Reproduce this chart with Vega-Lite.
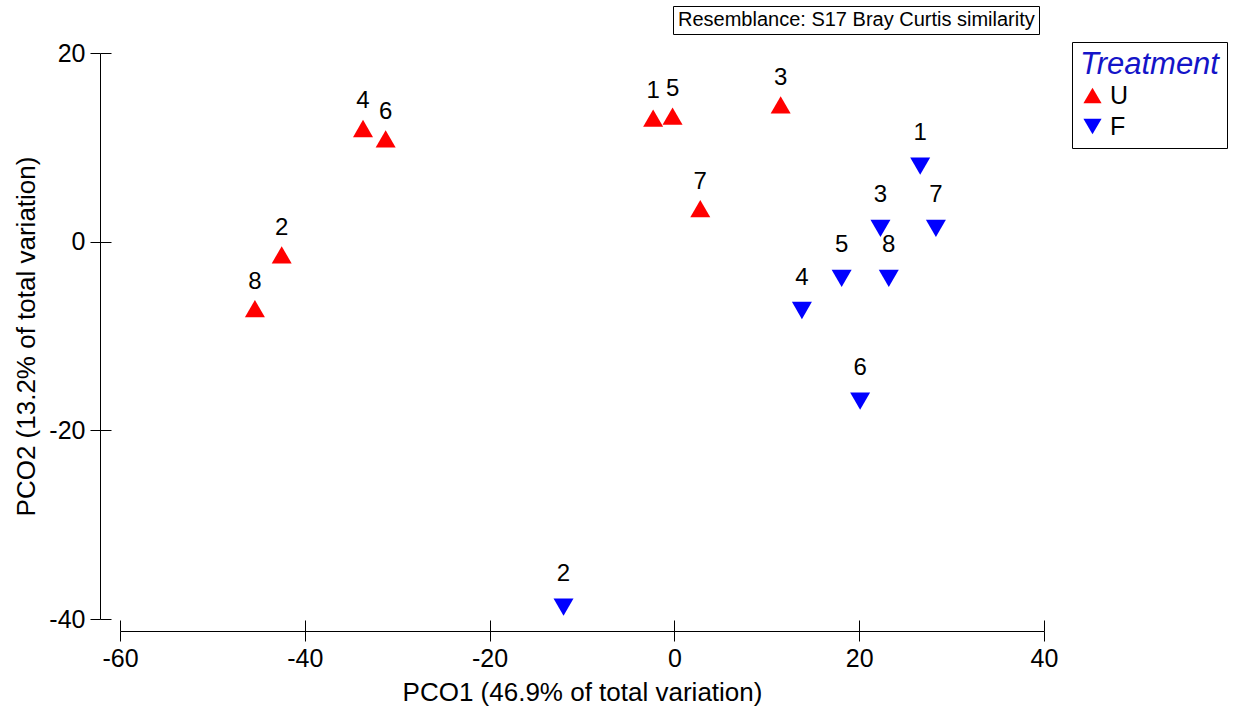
{
  "$schema": "https://vega.github.io/schema/vega-lite/v6.json",
  "width": 924,
  "height": 566,
  "autosize": "none",
  "padding": {"left": 120, "top": 53, "right": 194, "bottom": 89},
  "background": "white",
  "config": {
    "view": {"stroke": null},
    "font": "Liberation Sans",
    "axis": {"domainColor": "black", "tickColor": "black", "labelColor": "black", "titleColor": "black", "labelFont": "Liberation Sans", "titleFont": "Liberation Sans", "labelFontSize": 25, "titleFontSize": 26, "titleFontWeight": "normal", "grid": false, "tickWidth": 1, "domainWidth": 1, "labelFlush": false, "labelOverlap": false}
  },
  "data": {
    "values": [
      {"Sample": "1", "Treatment": "U", "PCO1": -2.3, "PCO2": 13.1},
      {"Sample": "2", "Treatment": "U", "PCO1": -42.5, "PCO2": -1.4},
      {"Sample": "3", "Treatment": "U", "PCO1": 11.5, "PCO2": 14.5},
      {"Sample": "4", "Treatment": "U", "PCO1": -33.7, "PCO2": 12.0},
      {"Sample": "5", "Treatment": "U", "PCO1": -0.2, "PCO2": 13.3},
      {"Sample": "6", "Treatment": "U", "PCO1": -31.25, "PCO2": 10.9},
      {"Sample": "7", "Treatment": "U", "PCO1": 2.8, "PCO2": 3.5},
      {"Sample": "8", "Treatment": "U", "PCO1": -45.4, "PCO2": -7.1},
      {"Sample": "1", "Treatment": "F", "PCO1": 26.6, "PCO2": 8.0},
      {"Sample": "2", "Treatment": "F", "PCO1": -12.0, "PCO2": -38.75},
      {"Sample": "3", "Treatment": "F", "PCO1": 22.3, "PCO2": 1.4},
      {"Sample": "4", "Treatment": "F", "PCO1": 13.8, "PCO2": -7.3},
      {"Sample": "5", "Treatment": "F", "PCO1": 18.1, "PCO2": -3.9},
      {"Sample": "6", "Treatment": "F", "PCO1": 20.1, "PCO2": -16.9},
      {"Sample": "7", "Treatment": "F", "PCO1": 28.3, "PCO2": 1.4},
      {"Sample": "8", "Treatment": "F", "PCO1": 23.2, "PCO2": -3.9}
    ]
  },
  "layer": [
    {
      "mark": {"type": "point", "filled": true, "size": 400, "opacity": 1, "strokeWidth": 0},
      "encoding": {
        "x": {"field": "PCO1", "type": "quantitative", "scale": {"domain": [-60, 40], "nice": false, "zero": false},
          "axis": {"orient": "bottom", "offset": 12, "tickSize": 10, "labelPadding": 5, "values": [-60, -40, -20, 0, 20, 40], "labelExpr": "'' + datum.value", "title": "PCO1 (46.9% of total variation)", "titlePadding": 8}},
        "y": {"field": "PCO2", "type": "quantitative", "scale": {"domain": [-40, 20], "nice": false, "zero": false},
          "axis": {"orient": "left", "offset": 20, "tickSize": 10, "labelPadding": 5, "values": [-40, -20, 0, 20], "labelExpr": "'' + datum.value", "title": "PCO2 (13.2% of total variation)", "titlePadding": 9}},
        "shape": {"field": "Treatment", "type": "nominal", "scale": {"domain": ["U", "F"], "range": ["triangle-up", "triangle-down"]},
          "legend": {"orient": "none", "legendX": 952, "legendY": -11, "strokeColor": "black", "padding": 8, "title": "Treatment", "titleFont": "Liberation Sans", "titleFontSize": 31, "titleFontStyle": "italic", "titleFontWeight": "normal", "titleColor": "#1414c8", "titlePadding": 2, "labelFont": "Liberation Sans", "labelFontSize": 25, "labelColor": "black", "symbolSize": 330, "symbolStrokeWidth": 0, "symbolOpacity": 1, "rowPadding": 5, "labelOffset": 5}},
        "color": {"field": "Treatment", "type": "nominal", "scale": {"domain": ["U", "F"], "range": ["#ff0000", "#0000ff"]}},
        "strokeDash": {"datum": "Resemblance: S17 Bray Curtis similarity", "type": "nominal",
          "legend": {"orient": "none", "legendX": 553, "legendY": -47, "title": null, "strokeColor": "black", "padding": 4, "labelFont": "Liberation Sans", "labelFontSize": 20, "labelColor": "black", "labelLimit": 800, "symbolSize": 0, "symbolOpacity": 0, "symbolStrokeWidth": 0, "labelOffset": -19}}
      }
    },
    {
      "transform": [{"filter": "datum.Treatment === 'U'"}],
      "mark": {"type": "text", "font": "Liberation Sans", "fontSize": 24, "color": "black", "align": "center", "baseline": "alphabetic", "dy": -20},
      "encoding": {
        "x": {"field": "PCO1", "type": "quantitative", "axis": {"orient": "bottom", "offset": 1, "tickSize": 11, "domain": false, "labels": false, "title": null, "values": [-60, -40, -20, 0, 20, 40]}},
        "y": {"field": "PCO2", "type": "quantitative", "axis": {"orient": "left", "offset": 9, "tickSize": 11, "domain": false, "labels": false, "title": null, "values": [-40, -20, 0, 20]}},
        "text": {"field": "Sample", "type": "nominal"}
      }
    },
    {
      "transform": [{"filter": "datum.Treatment === 'F'"}],
      "mark": {"type": "text", "font": "Liberation Sans", "fontSize": 24, "color": "black", "align": "center", "baseline": "alphabetic", "dy": -26},
      "encoding": {
        "x": {"field": "PCO1", "type": "quantitative", "axis": null},
        "y": {"field": "PCO2", "type": "quantitative", "axis": null},
        "text": {"field": "Sample", "type": "nominal"}
      }
    }
  ],
  "resolve": {"axis": {"x": "independent", "y": "independent"}}
}
